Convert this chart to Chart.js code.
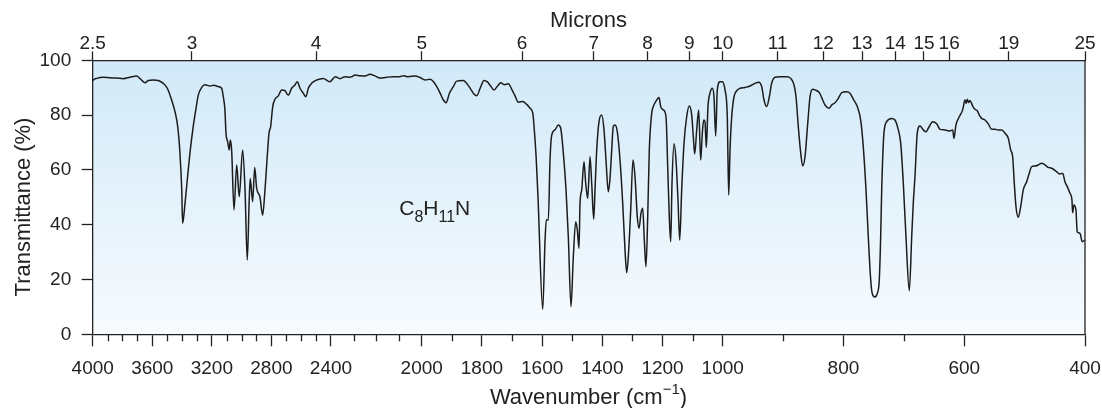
<!DOCTYPE html>
<html>
<head>
<meta charset="utf-8">
<script src="https://cdn.jsdelivr.net/npm/chart.js@4.4.1/dist/chart.umd.min.js"></script>
<style>
  html, body { margin: 0; padding: 0; background: #fff; }
  #wrap { width: 1102px; height: 408px; position: relative; }
</style>
</head>
<body>
<div id="wrap"><canvas id="ir"></canvas></div>
<script>
/* IR spectrum, C8H11N */
const wavenumbers = [
  4000, 3996, 3973, 3929, 3884, 3839, 3795, 3750, 3705, 3682, 3649, 3627, 3593, 3560, 3526, 3499,
  3470, 3447, 3429, 3414, 3402, 3396, 3380, 3365, 3347, 3325, 3306, 3291, 3268, 3246, 3212, 3186,
  3157, 3134, 3123, 3112, 3105, 3094, 3083, 3076, 3067, 3051, 3033, 3016, 2993, 2977, 2962, 2949,
  2942, 2926, 2912, 2899, 2877, 2859, 2843, 2828, 2816, 2805, 2791, 2776, 2754, 2731, 2709, 2687,
  2664, 2642, 2626, 2608, 2586, 2568, 2552, 2530, 2496, 2452, 2407, 2381, 2360, 2338, 2316, 2309,
  2294, 2272, 2250, 2228, 2206, 2184, 2155, 2126, 2096, 2081, 2059, 2030, 2007, 1989, 1972, 1961,
  1950, 1939, 1928, 1919, 1908, 1895, 1884, 1862, 1851, 1837, 1826, 1817, 1806, 1793, 1782, 1771,
  1760, 1748, 1737, 1726, 1712, 1701, 1690, 1679, 1665, 1651, 1640, 1631, 1626, 1620, 1613.6, 1598,
  1590.4, 1586.1, 1579.4, 1573.8, 1568.1, 1557.2, 1546.2, 1538.2, 1529.6, 1520.6, 1513, 1504, 1496.4, 1488.4, 1483.1, 1477.5,
  1474.1, 1468.5, 1460.8, 1455.2, 1448.5, 1440.9, 1435.3, 1428.6, 1424.3, 1418.6, 1411, 1402, 1394.4, 1387.8, 1380.1, 1374.5,
  1368.8, 1363.5, 1357.9, 1350.2, 1341.2, 1332.3, 1324.6, 1319, 1313.7, 1305.7, 1298.1, 1291.4, 1283.8, 1278.1, 1271.5, 1265.8,
  1260.5, 1254.9, 1249.2, 1243.9, 1235.9, 1230.6, 1219.3, 1211.7, 1206, 1197.4, 1188.4, 1182.8, 1177.5, 1172.8, 1168.5, 1161.9,
  1155.2, 1148.6, 1142.9, 1136.3, 1128.6, 1119.7, 1111, 1103, 1097.7, 1093.1, 1086.4, 1079.8, 1073.2, 1067.8, 1063.2, 1058.9,
  1054.5, 1048.9, 1042.3, 1034.6, 1029, 1023.3, 1018, 1009, 1001.4, 996.2, 992.4, 990.1, 987.9, 985.1, 981.3, 976.8,
  971.4, 963.1, 954.8, 946.5, 940.4, 935.4, 931.6, 927.1, 922.8, 918.9, 913.4, 905.1, 894, 887.4, 881.9, 878.6,
  874.8, 870.8, 867.5, 863.7, 859.2, 855.4, 851, 847.2, 840, 834.4, 830.6, 823.5, 819.5, 814, 808.5, 802.9,
  794.7, 789.2, 783.7, 777.1, 771.5, 767.2, 762.7, 758.9, 754.9, 752.6, 748.2, 743.7, 740.7, 738.4, 736.7, 733,
  728.4, 720.1, 714.7, 709.2, 705.2, 700.9, 696.5, 691, 687, 684.4, 681.6, 677.8, 673.3, 667.8, 663.3, 659.5,
  652.2, 645.6, 640.1, 631.9, 623.6, 619.1, 617, 613.7, 608.2, 602.6, 598.8, 597, 595, 593, 590.5, 586,
  582.2, 578.4, 575.1, 571.1, 565.6, 560.2, 554.6, 549.1, 543.6, 538, 532.5, 527, 523.1, 519.8, 517.1, 514.3,
  510.5, 506.5, 502.2, 496.6, 492.3, 488.3, 482.9, 477.4, 471.8, 466.3, 460.8, 455.2, 446.9, 441.5, 437, 433.2,
  429.4, 424.9, 421.6, 420.5, 418.3, 415, 412.9, 408.4, 404.6, 400
];
const transmittance = [
  92.5, 92.8, 93.4, 93.8, 93.6, 93.5, 93.3, 93.8, 94.3, 93.3, 91.8, 92.6, 92.8, 92.6, 91.6, 89.8,
  85.5, 81.2, 75.8, 66.1, 52.7, 40.5, 47.8, 56.3, 66.1, 75.8, 82.5, 87.3, 90.1, 91.1, 90.6, 90.9,
  90.4, 89.8, 86.7, 81.9, 73.4, 70.3, 67.3, 70.9, 67.3, 45.4, 61.8, 50.2, 67.3, 52.7, 27.1, 49.0,
  56.9, 48.4, 60.9, 53.3, 50.2, 43.5, 52.7, 64.8, 73.4, 75.8, 83.1, 85.8, 87.0, 89.2, 88.9, 87.3,
  89.8, 91.0, 92.2, 89.8, 88.0, 86.7, 89.8, 91.6, 92.8, 93.4, 92.2, 94.0, 93.3, 94.0, 93.8, 94.0,
  94.6, 94.4, 94.3, 94.9, 94.3, 93.5, 93.8, 94.0, 94.0, 94.4, 94.0, 94.3, 93.7, 92.8, 93.1, 92.2,
  90.4, 88.0, 85.5, 84.5, 88.0, 90.4, 92.4, 92.6, 91.6, 89.4, 87.6, 87.1, 89.8, 92.6, 92.1, 90.6,
  89.2, 90.6, 91.8, 91.1, 91.4, 89.4, 87.0, 84.7, 85.0, 83.9, 82.5, 80.7, 74.6, 64.8, 49.7, 9.1,
  34.0, 41.7, 41.7, 63.6, 72.7, 74.6, 76.4, 75.2, 66.1, 52.7, 35.6, 10.1, 28.3, 41.1, 38.1, 31.4,
  47.8, 52.7, 63.0, 55.1, 49.6, 64.8, 55.1, 42.0, 52.7, 67.3, 77.6, 80.0, 74.6, 63.6, 52.0, 56.9,
  67.3, 76.0, 76.4, 73.9, 63.6, 47.8, 30.8, 22.5, 28.3, 45.4, 63.6, 57.5, 42.9, 38.7, 44.2, 46.0,
  34.4, 24.7, 42.9, 67.3, 80.7, 83.1, 85.5, 86.4, 83.1, 81.9, 79.4, 61.2, 42.9, 33.8, 55.1, 69.5,
  63.6, 49.0, 34.4, 52.7, 69.7, 79.4, 83.3, 80.0, 72.1, 65.8, 74.6, 81.9, 63.6, 73.4, 78.2, 77.6,
  68.2, 83.1, 88.0, 89.8, 86.7, 72.4, 89.2, 92.2, 92.2, 89.2, 79.4, 50.8, 67.3, 79.4, 86.7, 88.9,
  89.8, 90.1, 90.6, 91.6, 92.0, 90.4, 85.5, 83.1, 86.7, 91.6, 93.8, 94.0, 94.0, 93.4, 91.0, 86.7,
  75.8, 66.1, 61.4, 64.8, 77.0, 86.7, 89.4, 89.2, 88.2, 85.5, 83.7, 82.5, 83.7, 84.5, 86.1, 88.2,
  88.5, 88.0, 85.8, 83.1, 78.2, 68.5, 52.7, 35.6, 19.8, 15.1, 13.6, 15.1, 19.8, 35.6, 52.7, 73.4,
  77.6, 78.8, 78.2, 74.6, 69.7, 55.1, 35.6, 15.9, 35.6, 47.8, 57.5, 73.4, 76.0, 74.6, 73.9, 75.2,
  77.6, 76.8, 74.8, 74.6, 74.2, 74.6, 71.5, 76.4, 79.4, 81.9, 85.5, 84.3, 85.8, 84.6, 85.3, 83.3,
  82.1, 81.6, 80.0, 78.8, 78.2, 76.8, 74.8, 74.8, 74.6, 74.6, 73.4, 71.5, 67.3, 64.8, 55.1, 46.6,
  42.7, 46.6, 52.7, 55.7, 58.8, 61.2, 61.4, 61.8, 62.4, 61.8, 60.9, 60.6, 59.3, 58.5, 58.8, 55.7,
  53.9, 51.5, 49.0, 44.4, 47.2, 45.4, 37.4, 36.9, 33.8, 34.4
];

const majorWn = [4000, 3600, 3200, 2800, 2400, 2000, 1800, 1600, 1400, 1200, 1000, 800, 600, 400];
const minorWn = [3900, 3800, 3700, 3500, 3400, 3300, 3100, 3000, 2900, 2700, 2600, 2500,
                 2300, 2200, 2100, 1900, 1700, 1500, 1300, 1100, 900, 700];
const microns = [2.5, 3, 4, 5, 6, 7, 8, 9, 10, 11, 12, 13, 14, 15, 16, 19, 25];
const yTicks = [0, 20, 40, 60, 80, 100];
const formula = [["C", false], ["8", true], ["H", false], ["11", true], ["N", false]];
const formulaAt = { wn: 2099, t: 43.5 };

/* the wavenumber axis changes scale at 2400, 2000 and 1000 cm-1 */
const axisBreaks = [[4000, 0], [2400, 0.2401], [2000, 0.3316], [1000, 0.6349], [400, 1]];

class BrokenScale extends Chart.LinearScale {
  toDecimal(v) {
    for (let i = 0; i < axisBreaks.length - 1; i++) {
      const [v0, f0] = axisBreaks[i], [v1, f1] = axisBreaks[i + 1];
      if (v >= v1 || i === axisBreaks.length - 2) return f0 + (v - v0) / (v1 - v0) * (f1 - f0);
    }
  }
  getPixelForValue(v) {
    return v === null ? NaN : this.getPixelForDecimal(this.toDecimal(v));
  }
  getValueForPixel(px) {
    const d = this.getDecimalForPixel(px);
    for (let i = 0; i < axisBreaks.length - 1; i++) {
      const [v0, f0] = axisBreaks[i], [v1, f1] = axisBreaks[i + 1];
      if (d <= f1 || i === axisBreaks.length - 2) return v0 + (d - f0) / (f1 - f0) * (v1 - v0);
    }
  }
}
BrokenScale.id = "broken";
BrokenScale.defaults = { ...Chart.LinearScale.defaults };
Chart.register(BrokenScale);

const INK = "#222";
const FONT = "'Liberation Sans', Arial, sans-serif";

const frame = {
  id: "frame",
  beforeDraw(chart) {
    const { ctx, chartArea: a } = chart;
    const g = ctx.createLinearGradient(0, a.top, 0, a.bottom);
    g.addColorStop(0, "#d1e9f8");
    g.addColorStop(1, "#f7fbfe");
    ctx.save();
    ctx.fillStyle = g;
    ctx.fillRect(a.left, a.top, a.right - a.left, a.bottom - a.top);
    ctx.restore();
  },
  afterDraw(chart) {
    const { ctx, chartArea: a } = chart;
    const x = chart.scales.x, y = chart.scales.y;
    ctx.save();
    ctx.strokeStyle = INK;
    ctx.lineWidth = 1.3;
    // right edge
    ctx.beginPath();
    ctx.moveTo(a.right, a.top);
    ctx.lineTo(a.right, a.bottom);
    ctx.stroke();
    // short ticks
    ctx.beginPath();
    minorWn.forEach(v => {
      const px = Math.round(x.getPixelForValue(v)) + 0.5;
      ctx.moveTo(px, a.bottom);
      ctx.lineTo(px, a.bottom + 7);
    });
    ctx.stroke();

    ctx.fillStyle = INK;
    ctx.textBaseline = "alphabetic";
    // titles
    ctx.font = "22px " + FONT;
    ctx.textAlign = "center";
    ctx.fillText("Microns", 588.5, 26.7);

    ctx.save();
    ctx.translate(29.5, 207);
    ctx.rotate(-Math.PI / 2);
    ctx.fillText("Transmittance (%)", 0, 0);
    ctx.restore();

    const parts = [["Wavenumber (cm", 22, 0], ["\u22121", 15, -10], [")", 22, 0]];
    ctx.textAlign = "left";
    let total = 0;
    parts.forEach(([t, s]) => { ctx.font = s + "px " + FONT; total += ctx.measureText(t).width; });
    let cx = 588.5 - total / 2;
    parts.forEach(([t, s, dy]) => {
      ctx.font = s + "px " + FONT;
      ctx.fillText(t, cx, 404 + dy);
      cx += ctx.measureText(t).width;
    });

    // formula label
    let fx = x.getPixelForValue(formulaAt.wn);
    const fy = y.getPixelForValue(formulaAt.t);
    formula.forEach(([t, sub]) => {
      ctx.font = (sub ? 16 : 21) + "px " + FONT;
      ctx.fillText(t, fx, fy + (sub ? 6.5 : 0));
      fx += ctx.measureText(t).width;
    });
    ctx.restore();
  }
};

const tickFont = { family: FONT, size: 19 };

new Chart(document.getElementById("ir"), {
  type: "line",
  data: {
    datasets: [{
      data: wavenumbers.map((w, i) => ({ x: w, y: transmittance[i] })),
      borderColor: "#1c1c1c",
      borderWidth: 1.5,
      pointRadius: 0,
      cubicInterpolationMode: "monotone",
      fill: false,
      xAxisID: "x",
      yAxisID: "y"
    }]
  },
  options: {
    responsive: true,
    maintainAspectRatio: false,
    animation: false,
    events: [],
    layout: { padding: { left: 0, right: 17, top: 0, bottom: 0 } },
    plugins: { legend: { display: false }, tooltip: { enabled: false } },
    scales: {
      x: {
        type: "broken",
        position: "bottom",
        min: 400, max: 4000,
        afterBuildTicks: s => { s.ticks = majorWn.map(v => ({ value: v })); },
        afterFit: s => { s.height = 73.7; s.paddingLeft = 0; s.paddingRight = 0; },
        ticks: { autoSkip: false, maxRotation: 0, minRotation: 0, padding: 11, color: INK, font: tickFont,
                 callback: v => String(v) },
        grid: { drawOnChartArea: false, tickLength: 12, tickWidth: 1.3, tickColor: INK },
        border: { color: INK, width: 1.3 }
      },
      top: {
        type: "broken",
        position: "top",
        min: 400, max: 4000,
        afterBuildTicks: s => { s.ticks = microns.map(m => ({ value: 10000 / m })); },
        afterFit: s => { s.height = 60.3; s.paddingLeft = 0; s.paddingRight = 0; },
        ticks: { autoSkip: false, maxRotation: 0, minRotation: 0, padding: -4, color: INK, font: tickFont,
                 callback: (v, i) => String(microns[i]) },
        grid: { drawOnChartArea: false, tickLength: 9, tickWidth: 1.3, tickColor: INK },
        border: { color: INK, width: 1.3 }
      },
      y: {
        type: "linear",
        position: "left",
        min: 0, max: 100,
        afterBuildTicks: s => { s.ticks = yTicks.map(v => ({ value: v })); },
        afterFit: s => { s.width = 92.7; },
        ticks: { padding: 10.5, color: INK, font: tickFont },
        grid: { drawOnChartArea: false, tickLength: 11, tickWidth: 1.3, tickColor: INK },
        border: { color: INK, width: 1.3 }
      }
    }
  },
  plugins: [frame]
});
</script>
</body>
</html>
